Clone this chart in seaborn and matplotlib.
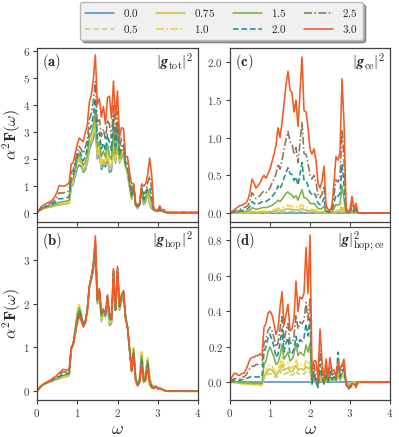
import numpy as np
import pandas as pd
import seaborn as sns
import matplotlib
matplotlib.use("Agg")
import matplotlib.pyplot as plt
from matplotlib.ticker import FuncFormatter, MultipleLocator
from matplotlib.lines import Line2D

# ---------------- data ----------------
omega = [0.0, 0.05, 0.1, 0.15, 0.2, 0.25, 0.3, 0.35, 0.4, 0.45,
         0.5, 0.55, 0.6, 0.65, 0.7, 0.75, 0.8, 0.85, 0.9, 0.95,
         1.0, 1.05, 1.1, 1.15, 1.2, 1.25, 1.3, 1.35, 1.4, 1.45,
         1.5, 1.55, 1.6, 1.65, 1.7, 1.75, 1.8, 1.85, 1.9, 1.95,
         2.0, 2.05, 2.1, 2.15, 2.2, 2.25, 2.3, 2.35, 2.4, 2.45,
         2.5, 2.55, 2.6, 2.65, 2.7, 2.75, 2.8, 2.85, 2.9, 2.95,
         3.0, 3.05, 3.1, 3.15, 3.2, 3.25, 3.3, 4.0]

lams = ["0.0", "0.5", "0.75", "1.0", "1.5", "2.0", "2.5", "3.0"]

# |g_hop|^2 contribution
hop_00 = [0, 0.06, 0.11, 0.15, 0.17, 0.19, 0.2, 0.22, 0.24, 0.26,
          0.27, 0.29, 0.3, 0.32, 0.33, 0.34, 0.36, 0.95, 1.05, 1.35,
          1.65, 1.78, 1.7, 1.5, 1.58, 1.85, 2.35, 2.55, 2.75, 3.1,
          2.0, 2.2, 1.6, 1.78, 1.7, 2.05, 1.5, 1.55, 2.5, 1.85,
          2.55, 1.85, 2.05, 2.15, 1.7, 1.45, 0.95, 0.5, 0.95, 0.3,
          0.15, 0.3, 0.85, 0.3, 0.4, 0.72, 0.3, 0.15, 0.1, 0.12,
          0.08, 0.08, 0.05, 0.03, 0.01, 0, 0, 0]
hop_05 = [0, 0.06, 0.11, 0.15, 0.17, 0.19, 0.2, 0.22, 0.24, 0.26,
          0.28, 0.29, 0.3, 0.32, 0.33, 0.34, 0.36, 0.96, 1.07, 1.4,
          1.75, 1.88, 1.75, 1.52, 1.58, 1.85, 2.36, 2.56, 2.78, 3.2,
          2.02, 2.22, 1.62, 1.8, 1.72, 2.08, 1.52, 1.57, 2.55, 1.85,
          2.6, 1.87, 2.08, 2.18, 1.72, 1.46, 0.95, 0.5, 0.98, 0.3,
          0.15, 0.32, 0.88, 0.32, 0.42, 0.75, 0.3, 0.15, 0.1, 0.12,
          0.08, 0.08, 0.05, 0.03, 0.01, 0, 0, 0]
hop_075 = [0, 0.06, 0.11, 0.15, 0.17, 0.19, 0.21, 0.22, 0.24, 0.26,
           0.28, 0.3, 0.31, 0.32, 0.33, 0.35, 0.37, 0.97, 1.08, 1.43,
           1.8, 1.95, 1.78, 1.53, 1.6, 1.86, 2.37, 2.57, 2.8, 3.25,
           2.04, 2.24, 1.64, 1.8, 1.73, 2.1, 1.55, 1.58, 2.58, 1.85,
           2.62, 1.88, 2.1, 2.2, 1.72, 1.46, 0.95, 0.5, 1.0, 0.3,
           0.15, 0.32, 0.9, 0.32, 0.43, 0.77, 0.3, 0.15, 0.1, 0.12,
           0.08, 0.08, 0.05, 0.03, 0.01, 0, 0, 0]
hop_10 = [0, 0.06, 0.11, 0.15, 0.17, 0.19, 0.21, 0.23, 0.25, 0.27,
          0.29, 0.3, 0.32, 0.33, 0.34, 0.36, 0.38, 0.97, 1.08, 1.45,
          1.82, 2.0, 1.8, 1.54, 1.6, 1.86, 2.38, 2.58, 2.82, 3.3,
          2.05, 2.25, 1.66, 1.82, 1.73, 2.12, 1.58, 1.6, 2.6, 1.85,
          2.65, 1.9, 2.12, 2.22, 1.72, 1.46, 0.95, 0.5, 1.0, 0.3,
          0.15, 0.32, 0.9, 0.32, 0.42, 0.78, 0.28, 0.14, 0.1, 0.12,
          0.08, 0.07, 0.05, 0.03, 0.01, 0, 0, 0]
hop_15 = [0, 0.06, 0.11, 0.15, 0.18, 0.2, 0.22, 0.24, 0.26, 0.28,
          0.3, 0.32, 0.34, 0.36, 0.37, 0.38, 0.4, 0.98, 1.08, 1.4,
          1.72, 1.9, 1.74, 1.52, 1.58, 1.86, 2.38, 2.58, 2.84, 3.35,
          2.06, 2.28, 1.72, 1.84, 1.74, 2.14, 1.65, 1.62, 2.65, 1.85,
          2.7, 1.92, 2.14, 2.25, 1.7, 1.46, 0.95, 0.48, 0.95, 0.28,
          0.14, 0.28, 0.8, 0.28, 0.36, 0.7, 0.24, 0.12, 0.08, 0.11,
          0.07, 0.06, 0.05, 0.03, 0.01, 0, 0, 0]
hop_20 = [0, 0.06, 0.11, 0.15, 0.18, 0.2, 0.22, 0.24, 0.27, 0.29,
          0.31, 0.34, 0.36, 0.38, 0.39, 0.4, 0.42, 0.98, 1.08, 1.36,
          1.65, 1.84, 1.7, 1.5, 1.57, 1.86, 2.39, 2.6, 2.86, 3.4,
          2.08, 2.3, 1.76, 1.85, 1.74, 2.16, 1.7, 1.63, 2.7, 1.85,
          2.74, 1.93, 2.16, 2.27, 1.68, 1.45, 0.95, 0.47, 0.9, 0.27,
          0.13, 0.25, 0.72, 0.25, 0.32, 0.64, 0.2, 0.1, 0.07, 0.1,
          0.07, 0.06, 0.04, 0.02, 0.01, 0, 0, 0]
hop_25 = [0, 0.06, 0.12, 0.16, 0.18, 0.2, 0.23, 0.25, 0.28, 0.31,
          0.34, 0.38, 0.41, 0.44, 0.44, 0.44, 0.47, 0.99, 1.08, 1.33,
          1.6, 1.78, 1.65, 1.48, 1.56, 1.85, 2.4, 2.61, 2.88, 3.47,
          2.09, 2.32, 1.8, 1.86, 1.75, 2.18, 1.75, 1.64, 2.75, 1.85,
          2.8, 1.94, 2.18, 2.28, 1.66, 1.45, 0.95, 0.46, 0.88, 0.26,
          0.12, 0.22, 0.66, 0.22, 0.28, 0.6, 0.17, 0.09, 0.06, 0.1,
          0.06, 0.05, 0.04, 0.02, 0.01, 0, 0, 0]
hop_30 = [0, 0.06, 0.12, 0.16, 0.19, 0.21, 0.24, 0.26, 0.3, 0.33,
          0.37, 0.42, 0.46, 0.5, 0.49, 0.48, 0.52, 1.0, 1.08, 1.3,
          1.55, 1.72, 1.6, 1.47, 1.55, 1.85, 2.4, 2.62, 2.9, 3.55,
          2.1, 2.35, 1.85, 1.88, 1.75, 2.2, 1.8, 1.65, 2.8, 1.85,
          2.85, 1.95, 2.2, 2.3, 1.65, 1.45, 0.95, 0.45, 0.85, 0.25,
          0.12, 0.2, 0.6, 0.2, 0.25, 0.55, 0.15, 0.08, 0.06, 0.1,
          0.06, 0.05, 0.04, 0.02, 0.01, 0, 0, 0]

# |g_ce|^2 contribution
ce_00 = [0] * 68
ce_05 = [0, 0, 0, 0.001, 0.001, 0.001, 0.001, 0.001, 0.002, 0.002,
         0.003, 0.005, 0.005, 0.004, 0.004, 0.005, 0.006, 0.006, 0.006, 0.006,
         0.007, 0.008, 0.009, 0.011, 0.014, 0.012, 0.014, 0.017, 0.02, 0.022,
         0.02, 0.019, 0.016, 0.018, 0.014, 0.019, 0.025, 0.016, 0.016, 0.014,
         0.01, 0.009, 0.01, 0.008, 0.005, 0.004, 0.005, 0.007, 0.001, 0.001,
         0, 0.001, 0.005, 0.009, 0.008, 0.01, 0.028, 0.014, 0.001, 0,
         0.001, 0.003, 0.001, 0.002, 0, 0, 0, 0]
ce_075 = [0, 0.001, 0.001, 0.002, 0.002, 0.003, 0.003, 0.004, 0.004, 0.005,
          0.008, 0.014, 0.012, 0.01, 0.011, 0.012, 0.014, 0.015, 0.014, 0.016,
          0.017, 0.02, 0.023, 0.027, 0.034, 0.03, 0.036, 0.044, 0.051, 0.056,
          0.049, 0.048, 0.04, 0.045, 0.035, 0.048, 0.062, 0.041, 0.04, 0.034,
          0.026, 0.023, 0.026, 0.021, 0.012, 0.01, 0.013, 0.019, 0.003, 0.002,
          0.001, 0.003, 0.012, 0.023, 0.021, 0.024, 0.07, 0.036, 0.002, 0,
          0.002, 0.007, 0.002, 0.004, 0, 0, 0, 0]
ce_10 = [0, 0.001, 0.002, 0.003, 0.004, 0.005, 0.005, 0.007, 0.007, 0.01,
         0.015, 0.025, 0.022, 0.018, 0.02, 0.022, 0.025, 0.028, 0.025, 0.029,
         0.032, 0.037, 0.043, 0.05, 0.062, 0.055, 0.066, 0.08, 0.094, 0.103,
         0.09, 0.088, 0.074, 0.083, 0.063, 0.088, 0.114, 0.075, 0.074, 0.063,
         0.047, 0.043, 0.047, 0.039, 0.022, 0.018, 0.023, 0.034, 0.006, 0.003,
         0.002, 0.006, 0.022, 0.041, 0.039, 0.044, 0.13, 0.066, 0.004, 0,
         0.003, 0.012, 0.003, 0.007, 0, 0, 0, 0]
ce_15 = [0, 0.003, 0.006, 0.009, 0.012, 0.015, 0.015, 0.018, 0.02, 0.027,
         0.04, 0.07, 0.06, 0.05, 0.055, 0.06, 0.07, 0.075, 0.07, 0.08,
         0.09, 0.1, 0.12, 0.14, 0.17, 0.15, 0.18, 0.22, 0.26, 0.28,
         0.25, 0.24, 0.2, 0.23, 0.17, 0.24, 0.31, 0.2, 0.2, 0.17,
         0.13, 0.12, 0.13, 0.1, 0.06, 0.05, 0.06, 0.09, 0.015, 0.008,
         0.005, 0.015, 0.06, 0.11, 0.1, 0.12, 0.36, 0.18, 0.01, 0,
         0.008, 0.033, 0.008, 0.02, 0, 0, 0, 0]
ce_20 = [0, 0.006, 0.013, 0.02, 0.025, 0.03, 0.03, 0.04, 0.04, 0.06,
         0.09, 0.15, 0.13, 0.11, 0.12, 0.13, 0.15, 0.16, 0.15, 0.17,
         0.19, 0.22, 0.25, 0.29, 0.36, 0.32, 0.38, 0.46, 0.54, 0.6,
         0.52, 0.51, 0.43, 0.48, 0.37, 0.51, 0.67, 0.44, 0.43, 0.36,
         0.27, 0.25, 0.27, 0.22, 0.13, 0.11, 0.13, 0.2, 0.03, 0.02,
         0.01, 0.03, 0.13, 0.24, 0.22, 0.26, 0.65, 0.38, 0.03, 0,
         0.02, 0.07, 0.02, 0.04, 0, 0, 0, 0]
ce_25 = [0, 0.01, 0.02, 0.03, 0.04, 0.05, 0.06, 0.07, 0.08, 0.1,
         0.16, 0.27, 0.23, 0.19, 0.21, 0.23, 0.27, 0.29, 0.27, 0.3,
         0.33, 0.4, 0.45, 0.52, 0.65, 0.58, 0.7, 0.84, 0.98, 1.08,
         0.95, 0.92, 0.78, 0.87, 0.67, 0.93, 1.2, 0.79, 0.78, 0.66,
         0.5, 0.45, 0.5, 0.41, 0.24, 0.2, 0.25, 0.36, 0.06, 0.03,
         0.02, 0.06, 0.24, 0.44, 0.41, 0.47, 1.1, 0.7, 0.05, 0,
         0.03, 0.13, 0.03, 0.08, 0, 0, 0, 0]
ce_30 = [0, 0.02, 0.04, 0.06, 0.08, 0.1, 0.1, 0.12, 0.13, 0.18,
         0.28, 0.45, 0.4, 0.33, 0.36, 0.4, 0.46, 0.5, 0.46, 0.52,
         0.58, 0.68, 0.78, 0.9, 1.13, 1.0, 1.2, 1.45, 1.7, 1.88,
         1.63, 1.6, 1.34, 1.5, 1.15, 1.6, 2.07, 1.36, 1.34, 1.14,
         0.85, 0.78, 0.85, 0.7, 0.4, 0.33, 0.42, 0.62, 0.1, 0.05,
         0.03, 0.1, 0.4, 0.75, 0.7, 0.8, 1.78, 1.2, 0.08, 0.0,
         0.05, 0.22, 0.05, 0.13, 0.0, 0.0, 0.0, 0]

# |g|^2_hop;ce cross contribution
x_00 = [0] * 68
x_05 = [0, 0.0, -0.001, -0.002, -0.003, -0.004, -0.005, -0.005, -0.006, -0.006,
        -0.007, -0.007, -0.008, -0.008, -0.009, -0.009, -0.009, 0.02, 0.03, 0.045,
        0.05, 0.045, 0.035, 0.025, 0.035, 0.05, 0.07, 0.045, 0.05, 0.055,
        0.04, 0.04, 0.05, 0.065, 0.045, 0.05, 0.05, 0.045, 0.06, 0.05,
        0.06, -0.005, 0.01, 0.0, -0.01, 0.015, 0.005, -0.005, 0.01, 0.0,
        0.01, 0.005, 0.01, 0.005, 0.025, 0.01, 0.02, 0.025, 0.0, -0.01,
        -0.005, -0.005, 0, -0.005, 0, 0, 0, 0]
x_075 = [0, 0.0, -0.002, -0.003, -0.005, -0.006, -0.008, -0.008, -0.009, -0.009,
         -0.01, -0.011, -0.011, -0.012, -0.013, -0.013, -0.014, 0.03, 0.045, 0.065,
         0.075, 0.068, 0.053, 0.038, 0.053, 0.075, 0.1, 0.068, 0.075, 0.083,
         0.06, 0.06, 0.075, 0.095, 0.068, 0.075, 0.075, 0.068, 0.09, 0.075,
         0.09, -0.008, 0.015, 0.0, -0.015, 0.023, 0.008, -0.008, 0.015, 0.0,
         0.015, 0.008, 0.015, 0.008, 0.038, 0.015, 0.03, 0.038, 0.0, -0.015,
         -0.008, -0.008, 0, -0.008, 0, 0, 0, 0]
x_10 = [0, 0.0, -0.002, -0.004, -0.006, -0.008, -0.01, -0.01, -0.012, -0.012,
        -0.013, -0.014, -0.015, -0.016, -0.017, -0.018, -0.018, 0.04, 0.06, 0.09,
        0.1, 0.09, 0.07, 0.05, 0.07, 0.1, 0.14, 0.09, 0.1, 0.11,
        0.08, 0.08, 0.1, 0.13, 0.09, 0.1, 0.1, 0.09, 0.12, 0.1,
        0.12, -0.01, 0.02, 0.0, -0.02, 0.03, 0.01, -0.01, 0.02, 0.0,
        0.02, 0.01, 0.02, 0.01, 0.05, 0.02, 0.04, 0.05, 0.0, -0.02,
        -0.01, -0.01, 0, -0.01, 0, 0, 0, 0]
x_15 = [0, 0.002, 0.003, 0.003, 0.002, 0.0, -0.002, -0.003, -0.003, -0.003,
        -0.003, -0.004, -0.005, -0.005, -0.006, -0.006, -0.006, 0.1, 0.12, 0.17,
        0.2, 0.17, 0.14, 0.1, 0.11, 0.15, 0.21, 0.13, 0.15, 0.17,
        0.12, 0.13, 0.16, 0.22, 0.15, 0.17, 0.16, 0.15, 0.21, 0.17,
        0.22, -0.01, 0.04, 0.0, -0.02, 0.06, 0.02, -0.01, 0.04, 0.0,
        0.04, 0.01, 0.03, 0.01, 0.1, 0.02, 0.05, 0.07, -0.01, -0.03,
        -0.02, -0.01, -0.01, -0.01, 0, 0, 0, 0]
x_20 = [0, 0.005, 0.01, 0.01, 0.01, 0.01, 0.015, 0.015, 0.02, 0.025,
        0.03, 0.03, 0.03, 0.03, 0.03, 0.03, 0.03, 0.17, 0.2, 0.25,
        0.27, 0.24, 0.2, 0.14, 0.16, 0.22, 0.3, 0.17, 0.22, 0.25,
        0.16, 0.16, 0.19, 0.26, 0.2, 0.24, 0.23, 0.25, 0.33, 0.26,
        0.36, -0.01, 0.06, 0.0, -0.03, 0.1, 0.03, -0.01, 0.05, 0.0,
        0.06, 0.02, 0.03, 0.01, 0.17, 0.03, 0.06, 0.08, -0.01, -0.04,
        -0.03, -0.02, -0.01, -0.02, 0, 0, 0, 0]
x_25 = [0, 0.01, 0.02, 0.02, 0.02, 0.02, 0.03, 0.03, 0.04, 0.06,
        0.08, 0.09, 0.09, 0.1, 0.1, 0.1, 0.1, 0.22, 0.24, 0.29,
        0.31, 0.29, 0.25, 0.2, 0.22, 0.3, 0.37, 0.23, 0.29, 0.33,
        0.22, 0.22, 0.26, 0.38, 0.3, 0.34, 0.33, 0.35, 0.45, 0.35,
        0.47, 0.02, 0.1, 0.03, -0.01, 0.18, 0.07, 0.0, 0.08, 0.02,
        0.09, 0.04, 0.05, 0.02, 0.1, 0.05, 0.08, 0.1, 0.0, -0.03,
        -0.02, -0.01, -0.01, -0.02, 0, 0, 0, 0]
x_30 = [0, 0.03, 0.05, 0.05, 0.04, 0.04, 0.05, 0.05, 0.07, 0.1,
        0.13, 0.14, 0.14, 0.15, 0.15, 0.16, 0.15, 0.31, 0.33, 0.39,
        0.4, 0.38, 0.33, 0.27, 0.3, 0.42, 0.51, 0.32, 0.38, 0.44,
        0.29, 0.3, 0.36, 0.57, 0.4, 0.48, 0.47, 0.5, 0.76, 0.5,
        0.83, 0.06, 0.12, 0.12, 0.02, 0.3, 0.12, 0.01, 0.13, 0.03,
        0.14, 0.06, 0.07, 0.03, 0.12, 0.07, 0.1, 0.13, 0.0, -0.03,
        -0.02, -0.01, -0.01, -0.03, 0, 0, 0, 0]

hop = [hop_00, hop_05, hop_075, hop_10, hop_15, hop_20, hop_25, hop_30]
ce = [ce_00, ce_05, ce_075, ce_10, ce_15, ce_20, ce_25, ce_30]
cross = [x_00, x_05, x_075, x_10, x_15, x_20, x_25, x_30]
# total = hop + ce + cross
tot = [list(np.add(np.add(h, c), x)) for h, c, x in zip(hop, ce, cross)]

colors = ["#4f8fcb", "#c3cc83", "#c9c43c", "#f2d13a",
          "#7bb04a", "#1d8f8c", "#8c7458", "#f25a24"]
dash_styles = ["", (3.5, 1.8), "", (5, 1.5, 1, 1.5),
               "", (3.5, 1.8), (5, 1.5, 1, 1.5), ""]

# --------------- style -----------------
sns.set_style("ticks")
plt.rcParams.update({
    "mathtext.fontset": "cm",
    "font.family": ["DejaVu Serif"],
    "axes.edgecolor": "#404040",
    "axes.linewidth": 0.9,
    "xtick.color": "#404040",
    "ytick.color": "#404040",
    "xtick.major.size": 3,
    "ytick.major.size": 3,
    "xtick.major.width": 0.8,
    "ytick.major.width": 0.8,
})

def make_df(series):
    rows = []
    for lam, vals in zip(lams, series):
        for w, v in zip(omega, vals):
            rows.append((w, v, lam))
    return pd.DataFrame(rows, columns=["omega", "val", "lam"])

W, H = 399, 437
fig = plt.figure(figsize=(W / 100, H / 100), dpi=100)

def ax_at(l, t, r, b):
    return fig.add_axes([l / W, 1 - b / H, (r - l) / W, (b - t) / H])

ax_a = ax_at(37, 48, 198, 222)
ax_c = ax_at(230, 48, 390, 222)
ax_b = ax_at(37, 227, 198, 400)
ax_d = ax_at(230, 227, 390, 400)

panels = [
    (ax_a, tot, "(a)", r"$|\mathbfit{g}_{\mathrm{tot}}|^2$", (-0.35, 6.13), 1.0, "%d"),
    (ax_c, ce, "(c)", r"$|\mathbfit{g}_{\mathrm{ce}}|^2$", (-0.12, 2.19), 0.5, "%.1f"),
    (ax_b, hop, "(b)", r"$|\mathbfit{g}_{\mathrm{hop}}|^2$", (-0.2, 3.75), 1.0, "%d"),
    (ax_d, cross, "(d)", r"$|\mathbfit{g}|^2_{\mathrm{hop;ce}}$", (-0.1, 0.875), 0.2, "%.1f"),
]

palette = dict(zip(lams, colors))
dashes = dict(zip(lams, dash_styles))

for ax, series, tag, title, ylim, step, fmt in panels:
    df = make_df(series)
    sns.lineplot(data=df, x="omega", y="val", hue="lam", style="lam",
                 hue_order=lams, style_order=lams, palette=palette,
                 dashes=dashes, linewidth=1.15, ax=ax, legend=False,
                 estimator=None, sort=False)
    ax.set_xlim(0, 4)
    ax.set_ylim(*ylim)
    ax.xaxis.set_major_locator(MultipleLocator(1))
    ax.yaxis.set_major_locator(MultipleLocator(step))
    ax.yaxis.set_major_formatter(FuncFormatter(
        lambda v, p, f=fmt: r"$\mathbf{" + (f % v) + "}$"))
    ax.xaxis.set_major_formatter(FuncFormatter(
        lambda v, p: r"$\mathbf{%d}$" % v))
    ax.tick_params(labelsize=8, pad=2)
    ax.set_xlabel("")
    ax.set_ylabel("")
    ax.text(0.03, 0.92, r"$\mathbf{" + tag + "}$", transform=ax.transAxes,
            fontsize=10.5, ha="left", va="center")
    ax.text(0.97, 0.92, title, transform=ax.transAxes,
            fontsize=10.5, ha="right", va="center")
    for s in ax.spines.values():
        s.set_visible(True)

for ax in (ax_a, ax_c):
    ax.tick_params(labelbottom=False)

ylab = r"$\mathbf{\alpha^2F(}\omega\mathbf{)}$"
for ax in (ax_a, ax_b):
    ax.set_ylabel(ylab, fontsize=11.5)
    ax.yaxis.set_label_coords(-0.09, 0.5)
ax_b.set_xlabel(r"$\omega$", fontsize=13, labelpad=1)
ax_d.set_xlabel(r"$\omega$", fontsize=13, labelpad=1)

# legend
handles = []
for lam, c, d in zip(lams, colors, dash_styles):
    if d == "":
        h = Line2D([], [], color=c, lw=1.15, ls="-")
    else:
        h = Line2D([], [], color=c, lw=1.15, ls=(0, d))
    handles.append(h)
leg = fig.legend(handles, [r"$\mathbf{%s}$" % l for l in lams], ncol=4,
                 loc="center", bbox_to_anchor=(221.5 / W, 1 - 21 / H),
                 fontsize=8, frameon=True, fancybox=True, shadow=True,
                 facecolor="#f0f0f0", edgecolor="#b8b8b8", framealpha=1,
                 handlelength=2.6, columnspacing=1.6, handletextpad=0.8,
                 borderpad=0.45, labelspacing=0.35)

fig.savefig("out.png", dpi=100)
